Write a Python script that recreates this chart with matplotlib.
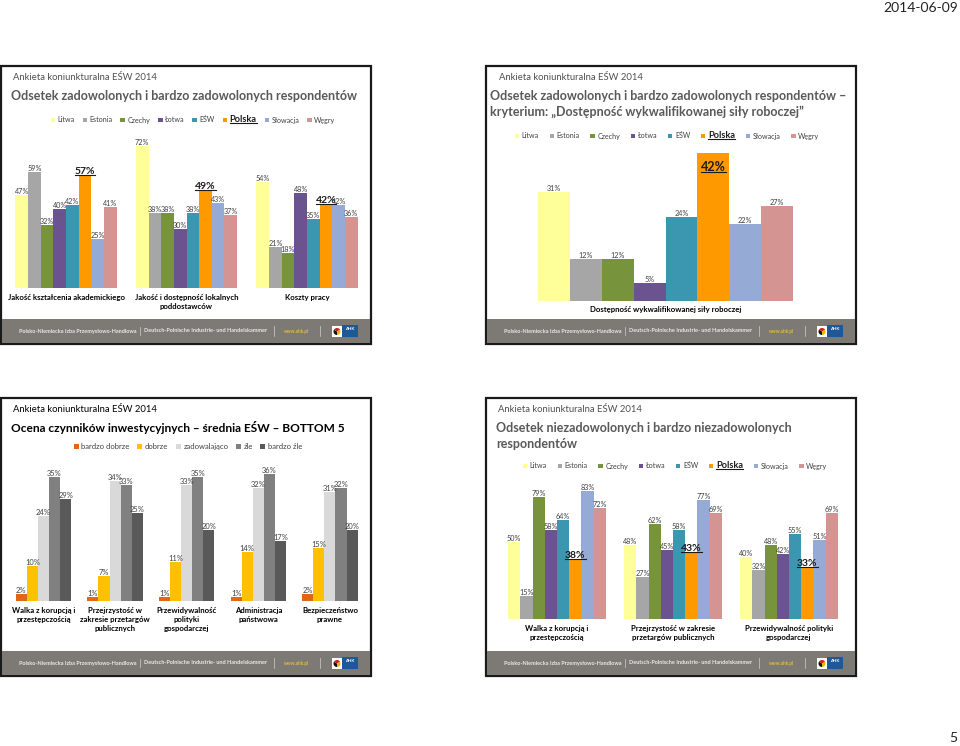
import numpy as np
import matplotlib
matplotlib.use("Agg")
import matplotlib.pyplot as plt
from matplotlib.patches import Rectangle, Patch, Wedge
from matplotlib.lines import Line2D

plt.rcParams['font.family'] = ['Lato', 'DejaVu Sans']

W, H = 960, 746

# ---- data ----------------------------------------------------------
countries = ['Litwa', 'Estonia', 'Czechy', 'Łotwa', 'EŚW', 'Polska', 'Słowacja', 'Węgry']
country_colors = ['#FFFF99', '#A6A6A6', '#77933C', '#6B5390', '#3B97B0', '#FF9900', '#95ABD5', '#D49492']

# slide 1 - zadowoleni
cats1 = ['Jakość kształcenia akademickiego', 'Jakość i dostępność lokalnych\npoddostawców', 'Koszty pracy']
vals1_akademickie = [47, 59, 32, 40, 42, 57, 25, 41]
vals1_poddostawcy = [72, 38, 38, 30, 38, 49, 43, 37]
vals1_koszty = [54, 21, 18, 48, 35, 42, 42, 36]

# slide 2 - sila robocza
cats2 = ['Dostępność wykwalifikowanej siły roboczej']
vals2 = [31, 12, 12, 5, 24, 42, 22, 27]

# slide 3 - bottom 5
ratings = ['bardzo dobrze', 'dobrze', 'zadowalająco', 'źle', 'bardzo źle']
rating_colors = ['#E2661A', '#FFC000', '#D9D9D9', '#808080', '#595959']
cats3 = ['Walka z korupcją i\nprzestępczością', 'Przejrzystość w\nzakresie przetargów\npublicznych',
         'Przewidywalność\npolityki\ngospodarczej', 'Administracja\npaństwowa', 'Bezpieczeństwo\nprawne']
vals3_korupcja = [2, 10, 24, 35, 29]
vals3_przetargi = [1, 7, 34, 33, 25]
vals3_polityka = [1, 11, 33, 35, 20]
vals3_administracja = [1, 14, 32, 36, 17]
vals3_bezpieczenstwo = [2, 15, 31, 32, 20]

# slide 4 - niezadowoleni
cats4 = ['Walka z korupcją i\nprzestępczością', 'Przejrzystość w zakresie\nprzetargów publicznych',
         'Przewidywalność polityki\ngospodarczej']
vals4_korupcja = [50, 15, 79, 58, 64, 38, 83, 72]
vals4_przetargi = [48, 27, 62, 45, 58, 43, 77, 69]
vals4_polityka = [40, 32, 48, 42, 55, 33, 51, 69]

fig = plt.figure(figsize=(9.6, 7.46), dpi=100)
ov = fig.add_axes([0, 0, 1, 1], zorder=0)
ov.set_xlim(0, W)
ov.set_ylim(H, 0)
ov.axis('off')

underline = []  # texts that get a line under them


def slide(x0, y0, title_small, title_lines, dark=False, tsize=9.0, tx=10, sx=12):
    # frame + footer of one slide
    ov.add_patch(Rectangle((x0, y0), 370, 278, fill=False, ec='#1a1a1a', lw=1.6))
    ov.add_patch(Rectangle((x0 + 0.8, y0 + 253), 368.4, 24.2, fc='#7d7a76', ec='none'))
    fy = y0 + 265
    ov.text(x0 + 18, fy, 'Polsko-Niemiecka Izba Przemysłowo-Handlowa', fontsize=4.0,
            color='#e8e8e8', va='center', fontweight='bold')
    ov.plot([x0 + 139, x0 + 139], [fy - 4, fy + 4], color='#d0d0d0', lw=0.5)
    ov.text(x0 + 143, fy, 'Deutsch-Polnische Industrie- und Handelskammer', fontsize=4.0,
            color='#e8e8e8', va='center', fontweight='bold')
    ov.plot([x0 + 273, x0 + 273], [fy - 5, fy + 5], color='#d0d0d0', lw=0.5)
    ov.text(x0 + 283, fy, 'www.ahk.pl', fontsize=3.4, color='#e0b83a', va='center', fontweight='bold')
    ov.plot([x0 + 319, x0 + 319], [fy - 5, fy + 5], color='#d0d0d0', lw=0.5)
    ov.add_patch(Rectangle((x0 + 331, fy - 5), 10, 11, fc='white', ec='none'))
    ov.add_patch(Wedge((x0 + 336, fy + 0.5), 3.5, 90, 210, fc='#111111'))
    ov.add_patch(Wedge((x0 + 336, fy + 0.5), 3.5, 210, 330, fc='#d22020'))
    ov.add_patch(Wedge((x0 + 336, fy + 0.5), 3.5, 330, 450, fc='#f0b400'))
    ov.add_patch(Rectangle((x0 + 341, fy - 6), 16, 12, fc='#1f5896', ec='none'))
    ov.text(x0 + 349, fy - 1.5, 'AHK', fontsize=3.2, color='white', ha='center', va='center',
            fontweight='bold')

    c1 = 'black' if dark else '#595959'
    ov.text(x0 + sx, y0 + 11, title_small, fontsize=6.8, color='black' if dark else '#505050', va='center')
    for i, line in enumerate(title_lines):
        ov.text(x0 + tx, y0 + 30 + i * 16, line, fontsize=tsize, color=c1, va='center',
                fontweight='bold')


def chart_axes(x0, x1, ybase, ppu, ymax):
    ax = fig.add_axes([x0 / W, 1 - ybase / H, (x1 - x0) / W, ymax * ppu / H], zorder=2)
    ax.set_ylim(0, ymax)
    ax.set_facecolor('none')
    for s in ax.spines.values():
        s.set_visible(False)
    ax.set_yticks([])
    return ax


def grouped(ax, cats, table, colors, w, lab_size=5.2, hi=None, hi_size=7.5, hi_inside=False,
            cat_size=5.6, pad=4.6):
    n = len(cats)
    k = len(colors)
    for j in range(k):
        xs = np.arange(n) + (j - (k - 1) / 2) * w
        ys = [row[j] for row in table]
        ax.bar(xs, ys, w, color=colors[j], linewidth=0)
        for x, v in zip(xs, ys):
            if j == hi:
                if hi_inside:
                    t = ax.text(x, v - 4, f'{v}%', ha='center', va='center', fontsize=hi_size,
                                fontweight='bold', color='#1a1a1a')
                else:
                    t = ax.text(x, v, f'{v}%', ha='center', va='bottom', fontsize=hi_size,
                                fontweight='bold', color='#1a1a1a')
                underline.append(t)
            else:
                ax.text(x, v, f'{v}%', ha='center', va='bottom', fontsize=lab_size, color='#404040')
    ax.set_xlim(-0.5, n - 0.5)
    ax.set_xticks(np.arange(n))
    ax.set_xticklabels(cats, fontsize=cat_size, fontweight='bold', color='black')
    for t in ax.get_xticklabels():
        t.set_linespacing(1.3)
    ax.tick_params(axis='x', length=0, pad=pad)


def legend(labels, colors, cx, cy, size=5.1, hi=None, color='#404040', spacing=1.1):
    handles = [Patch(fc=c, ec='none') for c in colors]
    leg = fig.legend(handles, labels, loc='center', bbox_to_anchor=(cx / W, 1 - cy / H), ncol=len(labels),
                     frameon=False, fontsize=size, handlelength=0.65, handleheight=0.65,
                     handletextpad=0.35, columnspacing=spacing, borderpad=0, labelcolor=color)
    if hi is not None:
        t = leg.get_texts()[hi]
        t.set_fontweight('bold')
        t.set_fontsize(size * 1.3)
        t.set_color('#1a1a1a')
        underline.append(t)


# ---- slide 1 -------------------------------------------------------
slide(1, 66, 'Ankieta koniunkturalna EŚW 2014', ['Odsetek zadowolonych i bardzo zadowolonych respondentów'])
legend(countries, country_colors, 193, 120, hi=5)
ax1 = chart_axes(5.75, 367.25, 288, 1.97, 80)
grouped(ax1, cats1, [vals1_akademickie, vals1_poddostawcy, vals1_koszty], country_colors, 0.105, hi=5)

# ---- slide 2 -------------------------------------------------------
slide(486, 66, 'Ankieta koniunkturalna EŚW 2014',
      ['Odsetek zadowolonych i bardzo zadowolonych respondentów –',
       'kryterium: „Dostępność wykwalifikowanej siły roboczej”'], tx=4, sx=13)
legend(countries, country_colors, 667, 136, hi=5, spacing=1.5)
ax2 = chart_axes(522.1, 809.0, 301, 3.52, 45)
grouped(ax2, cats2, [vals2], country_colors, 0.1, hi=5, hi_size=9, hi_inside=True, pad=3.6)
ax2.set_xlim(-0.45, 0.45)

# ---- slide 3 -------------------------------------------------------
slide(1, 398, 'Ankieta koniunkturalna EŚW 2014', ['Ocena czynników inwestycyjnych – średnia EŚW – BOTTOM 5'],
      dark=True, tsize=8.6)
legend(ratings, rating_colors, 188, 447, size=5.5, color='#404040', spacing=1.0)
ax3 = chart_axes(7.7, 365.7, 601, 3.53, 40)
grouped(ax3, cats3, [vals3_korupcja, vals3_przetargi, vals3_polityka, vals3_administracja,
                     vals3_bezpieczenstwo], rating_colors, 0.155, lab_size=5.4)

# ---- slide 4 -------------------------------------------------------
slide(486, 398, 'Ankieta koniunkturalna EŚW 2014',
      ['Odsetek niezadowolonych i bardzo niezadowolonych', 'respondentów'])
legend(countries, country_colors, 675, 466, hi=5, spacing=1.5)
ax4 = chart_axes(499, 847, 619, 1.54, 90)
grouped(ax4, cats4, [vals4_korupcja, vals4_przetargi, vals4_polityka], country_colors, 0.1056, hi=5)

# page decorations
fig.text(958 / W, 1 - 8 / H, '2014-06-09', ha='right', va='center', fontsize=10, color='#222222')
fig.text(957 / W, 1 - 738 / H, '5', ha='right', va='center', fontsize=10, color='#222222')

# underline the Polska labels
fig.canvas.draw()
r = fig.canvas.get_renderer()
for t in underline:
    bb = t.get_window_extent(r)
    y = bb.y0 + 0.12 * bb.height
    fig.add_artist(Line2D([bb.x0 / W, bb.x1 / W], [y / H, y / H], transform=fig.transFigure,
                          color='#1a1a1a', lw=0.8, zorder=5))

fig.savefig('out.png', dpi=100)
